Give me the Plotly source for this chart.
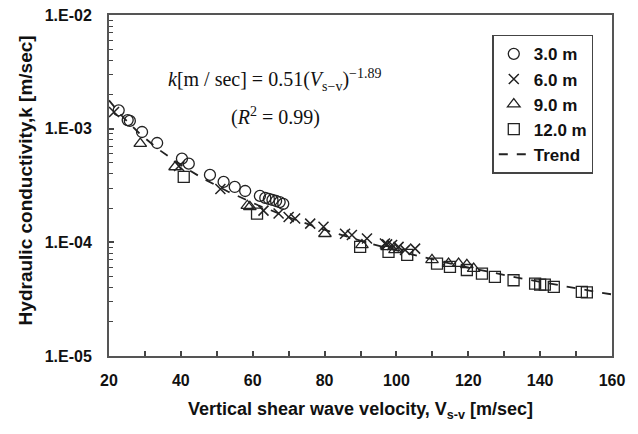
import plotly.graph_objects as go
import numpy as np

# ---- data ----
v_3m = [22.7, 25.2, 25.8, 29.2, 33.4, 40.3, 42.2, 48.1, 51.9, 55.0, 57.9,
        62.0, 63.5, 64.5, 65.5, 66.5, 67.5, 68.5]
k_3m = [1.45e-3, 1.19e-3, 1.17e-3, 9.35e-4, 7.48e-4, 5.45e-4, 4.92e-4, 3.92e-4,
        3.40e-4, 3.07e-4, 2.83e-4, 2.56e-4, 2.46e-4, 2.41e-4, 2.36e-4, 2.31e-4,
        2.26e-4, 2.18e-4]

v_6m = [21.4, 39.5, 51.0, 63.0, 67.2, 70.0, 71.8, 76.0, 79.7, 85.7, 87.6,
        91.8, 96.8, 97.4, 98.8, 100.6, 102.4, 105.2]
k_6m = [1.40e-3, 4.7e-4, 2.95e-4, 1.9e-4, 1.79e-4, 1.67e-4, 1.62e-4, 1.46e-4,
        1.37e-4, 1.19e-4, 1.16e-4, 1.08e-4, 9.75e-5, 9.6e-5, 9.49e-5, 9.12e-5,
        8.58e-5, 8.8e-5]

v_9m = [28.7, 38.4, 58.5, 59.2, 80.1, 90.4, 97.4, 99.6, 109.9, 114.5, 117.3,
        119.6, 121.5]
k_9m = [7.38e-4, 4.6e-4, 2.1e-4, 2.05e-4, 1.19e-4, 9.48e-5, 9.12e-5, 8.58e-5,
        7.0e-5, 6.5e-5, 6.5e-5, 6.33e-5, 5.87e-5]

v_12m = [40.8, 61.2, 89.9, 97.8, 103.0, 111.3, 114.9, 119.6, 123.8, 127.4,
         132.6, 138.6, 140.0, 141.3, 143.8, 151.6, 153.0]
k_12m = [3.76e-4, 1.79e-4, 9.12e-5, 8.24e-5, 7.75e-5, 6.5e-5, 6.08e-5, 5.71e-5,
         5.31e-5, 4.96e-5, 4.64e-5, 4.33e-5, 4.25e-5, 4.25e-5, 4.06e-5, 3.66e-5,
         3.63e-5]

# trend from the equation shown on the chart
trend_a = 0.51
trend_b = -1.89
trend_v = np.linspace(20, 160, 200)
trend_k = trend_a * trend_v ** trend_b

x_ticks = [20, 40, 60, 80, 100, 120, 140, 160]
y_ticks = [1e-5, 1e-4, 1e-3, 1e-2]
y_ticklabels = ["1.E-05", "1.E-04", "1.E-03", "1.E-02"]
series_names = ["3.0 m", "6.0 m", "9.0 m", "12.0 m"]

fig = go.Figure()
ink = "#222"
fig.add_trace(go.Scatter(x=v_3m, y=k_3m, mode="markers", name=series_names[0],
                         marker=dict(symbol="circle-open", size=11, color=ink, line=dict(width=1.3))))
fig.add_trace(go.Scatter(x=v_6m, y=k_6m, mode="markers", name=series_names[1],
                         marker=dict(symbol="x-thin-open", size=10, color=ink, line=dict(width=1.5, color=ink))))
fig.add_trace(go.Scatter(x=v_9m, y=k_9m, mode="markers", name=series_names[2],
                         marker=dict(symbol="triangle-up-open", size=11, color=ink, line=dict(width=1.3))))
fig.add_trace(go.Scatter(x=v_12m, y=k_12m, mode="markers", name=series_names[3],
                         marker=dict(symbol="square-open", size=11, color=ink, line=dict(width=1.3))))
fig.add_trace(go.Scatter(x=trend_v, y=trend_k, mode="lines", name="Trend",
                         line=dict(color=ink, width=1.8, dash="dash")))

sans = "Liberation Sans, Arial, sans-serif"
tick_font = dict(family=sans, size=16, color="#111", weight="bold")

fig.update_layout(
    width=638, height=434,
    margin=dict(l=101, r=34, t=7, b=86),
    paper_bgcolor="white", plot_bgcolor="white",
    font=dict(family=sans, color="#111"),
    showlegend=True,
    legend=dict(x=0.762, y=0.942, xanchor="left", yanchor="top",
                bordercolor="#444", borderwidth=1.5, bgcolor="white",
                font=dict(size=17, family=sans, weight="bold"),
                itemwidth=30, tracegroupgap=6),
    xaxis=dict(range=[20, 160], tickvals=x_ticks, ticks="inside", ticklen=5,
               tickcolor="#444", tickwidth=1.5, automargin=False,
               ticklabeloverflow="allow",
               showline=True, linecolor="#555", linewidth=2, mirror=True,
               showgrid=False, zeroline=False,
               tickfont=tick_font, ticklabelstandoff=9,
               minor=dict(dtick=10, ticks="inside", ticklen=5, tickcolor="#444", tickwidth=1.5, showgrid=False)),
    yaxis=dict(type="log", range=[-5, -2], tickvals=y_ticks, ticktext=y_ticklabels,
               ticks="inside", ticklen=5, tickcolor="#444", tickwidth=1.5, automargin=False,
               ticklabeloverflow="allow",
               showline=True, linecolor="#555", linewidth=2, mirror=True,
               showgrid=False, zeroline=False,
               tickfont=tick_font, ticklabelstandoff=12,
               minor=dict(tickmode="array",
                          tickvals=[m * 10.0 ** e for e in (-5, -4, -3) for m in range(2, 10)],
                          ticks="inside", ticklen=4, tickcolor="#444", tickwidth=1.2, showgrid=False)),
)

# axis titles
fig.add_annotation(x=0.5, y=-0.159, xref="paper", yref="paper", showarrow=False,
                   yanchor="middle", xanchor="center",
                   text="Vertical shear wave velocity, V<sub>s-v</sub> [m/sec]",
                   font=dict(family=sans, size=18, color="#111", weight="bold"))
fig.add_annotation(x=-0.167, y=0.515, xref="paper", yref="paper", showarrow=False,
                   textangle=-90, xanchor="center", yanchor="middle",
                   text="Hydraulic conductivity,k [m/sec]",
                   font=dict(family=sans, size=19, color="#111", weight="bold"))

serif = dict(family="Liberation Serif, Times New Roman, serif", size=20, color="#111")
fig.add_annotation(x=0.33, y=0.81, xref="paper", yref="paper", showarrow=False,
                   xanchor="center", yanchor="middle",
                   text="<i>k</i>[m / sec] = 0.51(<i>V</i><sub>s−v</sub>)<sup>−1.89</sup>",
                   font=serif)
fig.add_annotation(x=0.332, y=0.701, xref="paper", yref="paper", showarrow=False,
                   xanchor="center", yanchor="middle",
                   text="(<i>R</i><sup>2</sup> = 0.99)", font=serif)

fig.write_html("out.html")
